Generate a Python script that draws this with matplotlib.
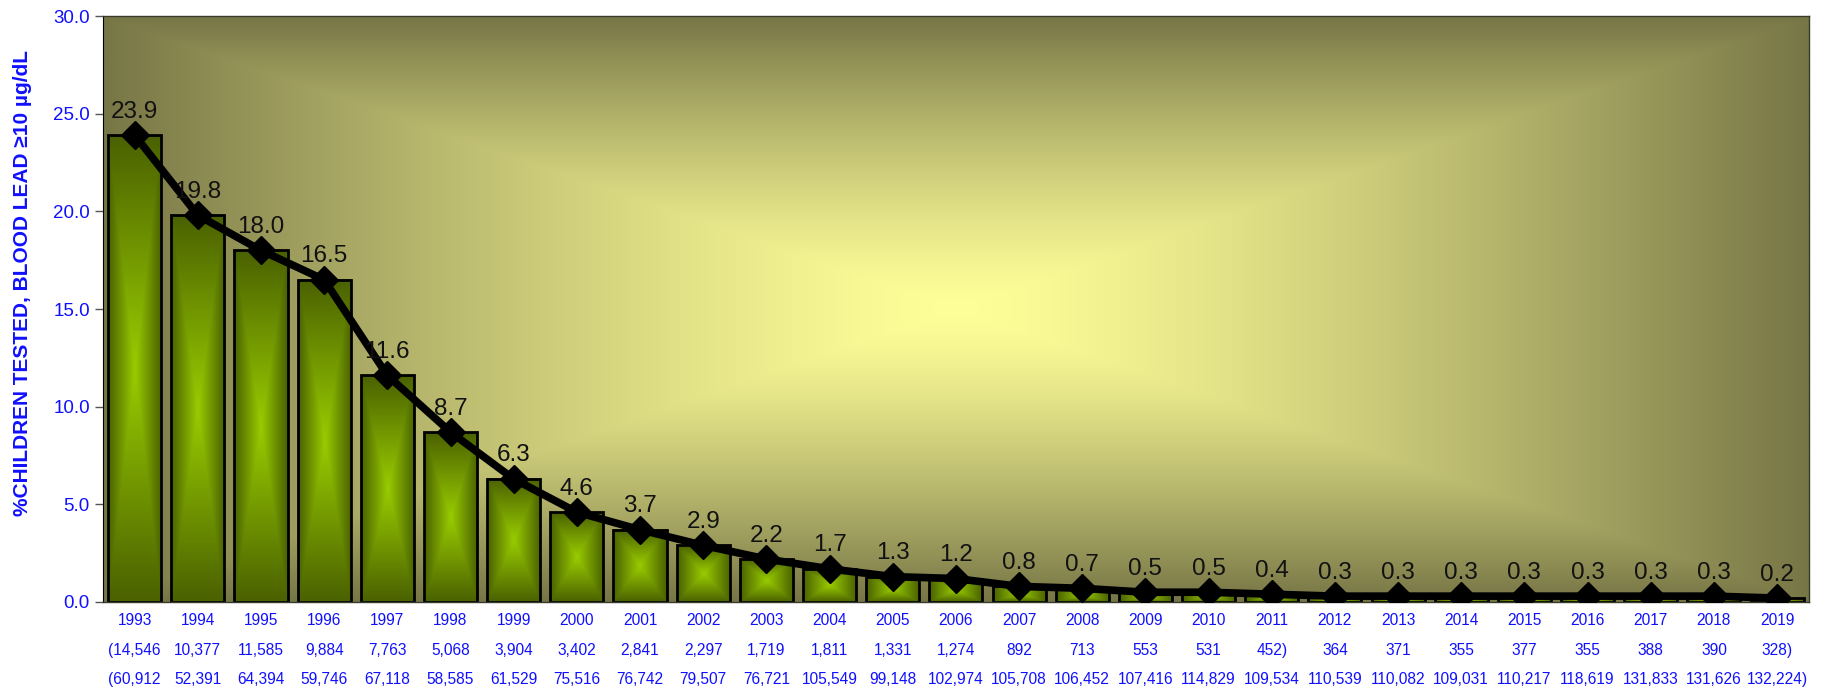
import numpy as np
import matplotlib
matplotlib.use("Agg")
import matplotlib.pyplot as plt
from matplotlib.colors import to_rgb

plt.rcParams['font.family'] = ['Liberation Sans', 'DejaVu Sans']

# Data
years = [str(y) for y in range(1993, 2020)]
pct_elevated = [23.9, 19.8, 18.0, 16.5, 11.6, 8.7, 6.3, 4.6, 3.7, 2.9, 2.2, 1.7, 1.3, 1.2,
                0.8, 0.7, 0.5, 0.5, 0.4, 0.3, 0.3, 0.3, 0.3, 0.3, 0.3, 0.3, 0.2]
n_elevated = ["(14,546", "10,377", "11,585", "9,884", "7,763", "5,068", "3,904", "3,402",
              "2,841", "2,297", "1,719", "1,811", "1,331", "1,274", "892", "713", "553",
              "531", "452)", "364", "371", "355", "377", "355", "388", "390", "328)"]
n_tested = ["(60,912", "52,391", "64,394", "59,746", "67,118", "58,585", "61,529", "75,516",
            "76,742", "79,507", "76,721", "105,549", "99,148", "102,974", "105,708", "106,452",
            "107,416", "114,829", "109,534", "110,539", "110,082", "109,031", "110,217",
            "118,619", "131,833", "131,626", "132,224)"]

BLUE = '#1010ff'


def path_gradient(nx, ny, inner, outer, gamma=1.0):
    # rectangular "from centre" gradient like the Excel fill
    xs = np.abs(np.linspace(-1, 1, nx))
    ys = np.abs(np.linspace(-1, 1, ny))
    t = np.maximum(xs[None, :], ys[:, None]) ** gamma
    c0 = np.array(to_rgb(inner))
    c1 = np.array(to_rgb(outer))
    return c0[None, None, :] * (1 - t[..., None]) + c1[None, None, :] * t[..., None]


fig = plt.figure(figsize=(18.34, 6.91), dpi=100)
ax = fig.add_axes([0.0562, 0.1288, 0.930, 0.848])

x = np.arange(len(years))
xlim = (-0.5, len(years) - 0.5)
ylim = (0, 30)
ax.set_xlim(*xlim)
ax.set_ylim(*ylim)

# plot-area background
bg = path_gradient(400, 200, '#ffff99', '#777646', gamma=1.35)
ax.imshow(bg, extent=[xlim[0], xlim[1], ylim[0], ylim[1]], aspect='auto', zorder=0,
          interpolation='bilinear')

# bars with gradient fill
bw = 0.84
bar_grad = path_gradient(60, 200, '#99cc00', '#4a6100')
for xi, v in zip(x, pct_elevated):
    ax.imshow(bar_grad, extent=[xi - bw / 2, xi + bw / 2, 0, v], aspect='auto', zorder=1,
              interpolation='bilinear')
ax.bar(x, pct_elevated, width=bw, facecolor='none', edgecolor='black', linewidth=2, zorder=2)

# line with markers
ax.plot(x, pct_elevated, color='black', linewidth=5.5, marker='D', markersize=14, zorder=3)

for xi, v in zip(x, pct_elevated):
    ax.annotate(f"{v:.1f}", (xi, v), xytext=(0, 9), textcoords='offset points',
                ha='center', va='bottom', fontsize=17.5, color='#111111', zorder=4)

ax.set_xlim(*xlim)
ax.set_ylim(*ylim)

ax.set_yticks(np.arange(0, 30.1, 5))
ax.set_yticklabels([f"{t:.1f}" for t in np.arange(0, 30.1, 5)])
ax.tick_params(axis='y', colors='#555555', labelcolor=BLUE, labelsize=13.5, length=6, width=1)

ax.set_xticks(x)
ax.set_xticklabels([f"{y}\n{a}\n{b}" for y, a, b in zip(years, n_elevated, n_tested)],
                   linespacing=2.2)
ax.tick_params(axis='x', length=0, labelcolor=BLUE, labelsize=11.2, pad=8)

for s in ['top', 'right', 'bottom']:
    ax.spines[s].set_color('#3a3a2a')
    ax.spines[s].set_linewidth(1)
ax.spines['left'].set_color('black')

fig.text(0.012, 0.59, "%CHILDREN TESTED, BLOOD LEAD \u226510 \u00b5g/dL", rotation=90,
         ha='center', va='center', fontsize=15, fontweight='bold', color=BLUE)

fig.savefig("out.png", dpi=100)
